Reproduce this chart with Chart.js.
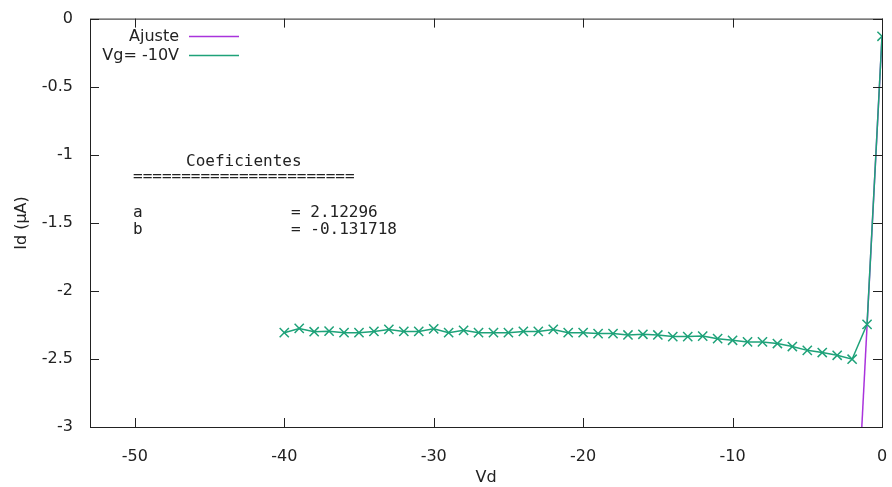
<!DOCTYPE html>
<html>
<head>
<meta charset="utf-8">
<script src="https://cdn.jsdelivr.net/npm/chart.js@4/dist/chart.umd.min.js"></script>
<style>
  body { margin: 0; background: #fff; }
  #wrap { width: 892px; height: 487px; }
</style>
</head>
<body>
<div id="wrap"><canvas id="myChart" width="892" height="487"></canvas></div>
<script>
/******** data */
const vd = [-40, -39, -38, -37, -36, -35, -34, -33, -32, -31,
            -30, -29, -28, -27, -26, -25, -24, -23, -22, -21,
            -20, -19, -18, -17, -16, -15, -14, -13, -12, -11,
            -10, -9, -8, -7, -6, -5, -4, -3, -2, -1, 0];
const id = [-2.307, -2.276, -2.300, -2.296, -2.307, -2.307, -2.298, -2.283, -2.298, -2.298,
            -2.279, -2.307, -2.290, -2.307, -2.307, -2.307, -2.298, -2.298, -2.283, -2.307,
            -2.307, -2.314, -2.314, -2.324, -2.319, -2.324, -2.336, -2.336, -2.332, -2.351,
            -2.363, -2.375, -2.375, -2.387, -2.409, -2.437, -2.453, -2.473, -2.502, -2.246, -0.13];

// fit Id = a*Vd + b
const fitA = 2.12296;
const fitB = -0.131718;
const fitX = [(-3 - fitB) / fitA, 0];

const xTicks = [-50, -40, -30, -20, -10, 0];
const yTicks = [-3, -2.5, -2, -1.5, -1, -0.5, 0];

const seriesLabels = ["Ajuste", "Vg= -10V"];
const coefLines = ["Coeficientes", "======================="];
const coefNames = ["a", "b"];
const coefValues = ["= 2.12296", "= -0.131718"];

const purple = "rgba(148, 0, 211, 0.8)";
const green = "#1ea279";
const ink = "#222";

/******** frame, inward ticks, key and fit text like gnuplot */
const gnuplotLook = {
  id: "gnuplotLook",
  afterDraw(chart) {
    const ctx = chart.ctx;
    const a = chart.chartArea;
    const xs = chart.scales.x;
    const ys = chart.scales.y;
    ctx.save();
    ctx.strokeStyle = ink;
    ctx.lineWidth = 1;
    ctx.strokeRect(a.left + 0.5, a.top + 0.5, a.right - a.left, a.bottom - a.top);
    ctx.beginPath();
    xTicks.forEach((v) => {
      const px = Math.round(xs.getPixelForValue(v)) + 0.5;
      ctx.moveTo(px, a.bottom); ctx.lineTo(px, a.bottom - 9);
      ctx.moveTo(px, a.top); ctx.lineTo(px, a.top + 9);
    });
    yTicks.forEach((v) => {
      const py = Math.round(ys.getPixelForValue(v)) + 0.5;
      ctx.moveTo(a.left, py); ctx.lineTo(a.left + 9, py);
      ctx.moveTo(a.right, py); ctx.lineTo(a.right - 9, py);
    });
    ctx.stroke();

    // axis titles
    ctx.fillStyle = ink;
    ctx.font = "16px 'DejaVu Sans'";
    ctx.textAlign = "center";
    ctx.textBaseline = "middle";
    ctx.fillText("Vd", 486, 478);
    ctx.save();
    ctx.translate(22, 223);
    ctx.rotate(-Math.PI / 2);
    ctx.fillText("Id (µA)", 0, 0);
    ctx.restore();

    // key
    ctx.textAlign = "right";
    ctx.fillText(seriesLabels[0], 179, 37);
    ctx.fillText(seriesLabels[1], 179, 56);
    ctx.lineWidth = 1.5;
    ctx.strokeStyle = purple;
    ctx.beginPath(); ctx.moveTo(189, 36.5); ctx.lineTo(239, 36.5); ctx.stroke();
    ctx.strokeStyle = green;
    ctx.beginPath(); ctx.moveTo(189, 55.5); ctx.lineTo(239, 55.5); ctx.stroke();
    Chart.helpers.drawPoint(ctx, { pointStyle: "crossRot", radius: 6.5, rotation: 0 }, 214, 55.5);

    // fit coefficients
    ctx.fillStyle = ink;
    ctx.font = "16px 'DejaVu Sans Mono'";
    ctx.textAlign = "left";
    ctx.fillText(coefLines[0], 186, 162);
    ctx.fillText(coefLines[1], 133, 177);
    ctx.fillText(coefNames[0], 133, 213);
    ctx.fillText(coefValues[0], 291, 213);
    ctx.fillText(coefNames[1], 133, 230);
    ctx.fillText(coefValues[1], 291, 230);
    ctx.restore();
  },
};

const ctx = document.getElementById("myChart");
new Chart(ctx, {
  type: "line",
  data: {
    datasets: [
      {
        label: seriesLabels[0],
        data: fitX.map((x) => ({ x: x, y: fitA * x + fitB })),
        borderColor: purple,
        borderWidth: 1.5,
        pointRadius: 0,
        order: 2,
      },
      {
        label: seriesLabels[1],
        data: vd.map((x, i) => ({ x: x, y: id[i] })),
        borderColor: green,
        backgroundColor: green,
        borderWidth: 1.5,
        pointStyle: "crossRot",
        pointRadius: 6.5,
        pointBorderWidth: 1.5,
        pointBorderColor: green,
        order: 1,
      },
    ],
  },
  options: {
    responsive: false,
    animation: false,
    layout: { padding: { top: 17, right: 10, left: 0, bottom: 0 } },
    plugins: {
      legend: { display: false },
      tooltip: { enabled: false },
    },
    scales: {
      x: {
        type: "linear",
        min: -53,
        max: 0,
        afterBuildTicks: (s) => { s.ticks = xTicks.map((v) => ({ value: v })); },
        afterFit: (s) => { s.height = 60; s.paddingRight = 0; s.paddingLeft = 0; },
        grid: { display: false },
        border: { display: false },
        ticks: { font: { family: "DejaVu Sans", size: 16 }, color: ink, padding: 12, maxRotation: 0 },
      },
      y: {
        type: "linear",
        min: -3,
        max: 0,
        afterBuildTicks: (s) => { s.ticks = yTicks.map((v) => ({ value: v })); },
        afterFit: (s) => { s.width = 90; },
        grid: { display: false },
        border: { display: false },
        ticks: {
          font: { family: "DejaVu Sans", size: 16 },
          color: ink,
          padding: 9,
          callback: (v) => String(v),
        },
      },
    },
  },
  plugins: [gnuplotLook],
});
</script>
</body>
</html>
